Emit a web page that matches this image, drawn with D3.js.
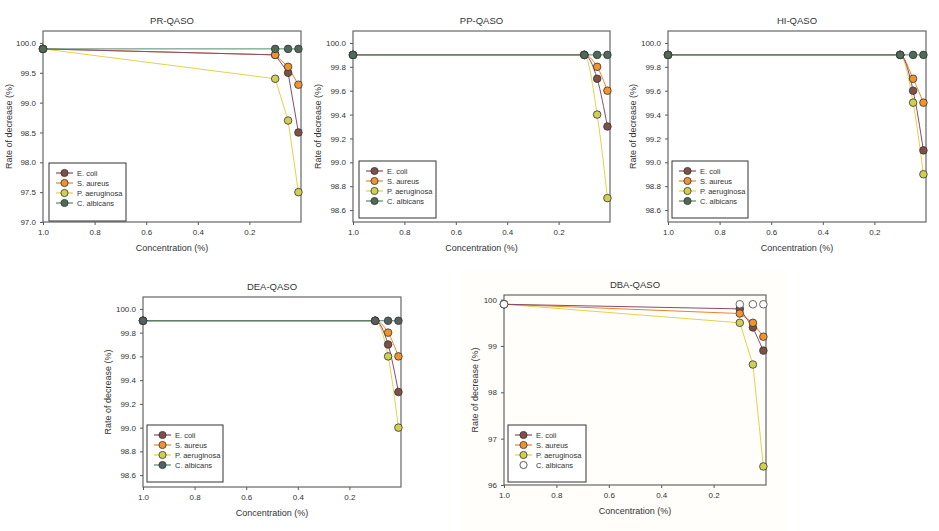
<!DOCTYPE html>
<html>
<head>
<meta charset="utf-8">
<script src="https://cdn.jsdelivr.net/npm/d3@7/dist/d3.min.js"></script>
<style>
  html, body { margin: 0; padding: 0; background: #ffffff; }
  svg { display: block; font-family: "Liberation Sans", Arial, sans-serif; }
</style>
</head>
<body>
<svg id="chart" width="939" height="531"></svg>
<script>
// ---------- data ----------
const concentrations = [1.0, 0.1, 0.05, 0.01];
const species = ["E. coli", "S. aureus", "P. aeruginosa", "C. albicans"];
const xTickValues = [1.0, 0.8, 0.6, 0.4, 0.2];

const prTitle = "PR-QASO";
const prEcoli = [99.9, 99.8, 99.5, 98.5];
const prSaureus = [99.9, 99.8, 99.6, 99.3];
const prPaeruginosa = [99.9, 99.4, 98.7, 97.5];
const prCalbicans = [99.9, 99.9, 99.9, 99.9];
const prYTicks = [97.0, 97.5, 98.0, 98.5, 99.0, 99.5, 100.0];

const ppTitle = "PP-QASO";
const ppEcoli = [99.9, 99.9, 99.7, 99.3];
const ppSaureus = [99.9, 99.9, 99.8, 99.6];
const ppPaeruginosa = [99.9, 99.9, 99.4, 98.7];
const ppCalbicans = [99.9, 99.9, 99.9, 99.9];

const hiTitle = "HI-QASO";
const hiEcoli = [99.9, 99.9, 99.6, 99.1];
const hiSaureus = [99.9, 99.9, 99.7, 99.5];
const hiPaeruginosa = [99.9, 99.9, 99.5, 98.9];
const hiCalbicans = [99.9, 99.9, 99.9, 99.9];

const deaTitle = "DEA-QASO";
const deaEcoli = [99.9, 99.9, 99.7, 99.3];
const deaSaureus = [99.9, 99.9, 99.8, 99.6];
const deaPaeruginosa = [99.9, 99.9, 99.6, 99.0];
const deaCalbicans = [99.9, 99.9, 99.9, 99.9];

const smallYTicks = [98.6, 98.8, 99.0, 99.2, 99.4, 99.6, 99.8, 100.0];

const dbaTitle = "DBA-QASO";
const dbaEcoli = [99.9, 99.8, 99.4, 98.9];
const dbaSaureus = [99.9, 99.7, 99.5, 99.2];
const dbaPaeruginosa = [99.9, 99.5, 98.6, 96.4];
const dbaCalbicans = [99.9, 99.9, 99.9, 99.9];
const dbaYTicks = [96, 97, 98, 99, 100];

// ---------- styles ----------
const lineColors = ["#8a4a6a", "#e8842a", "#e2d24a", "#4f8a6a"];
const markerFills = ["#7e5048", "#f0922e", "#cfcf55", "#4e6a58"];

const panels = [
  { title: prTitle, values: [prEcoli, prSaureus, prPaeruginosa, prCalbicans], yDomain: [97.0, 100.2], yTicks: prYTicks, fmt: ".1f",
    box: { l: 43, r: 301, t: 31, b: 222 }, legend: { x: 49, y: 163, w: 77, h: 58 }, curve: "linear", ylx: 9, bg: "#ffffff" },
  { title: ppTitle, values: [ppEcoli, ppSaureus, ppPaeruginosa, ppCalbicans], yDomain: [98.5, 100.1], yTicks: smallYTicks, fmt: ".1f",
    box: { l: 353, r: 610, t: 31, b: 222 }, legend: { x: 359, y: 161, w: 77, h: 57 }, curve: "smooth", ylx: 318, bg: "#ffffff" },
  { title: hiTitle, values: [hiEcoli, hiSaureus, hiPaeruginosa, hiCalbicans], yDomain: [98.5, 100.1], yTicks: smallYTicks, fmt: ".1f",
    box: { l: 668, r: 926, t: 31, b: 222 }, legend: { x: 672, y: 161, w: 76, h: 57 }, curve: "smooth", ylx: 633, bg: "#ffffff" },
  { title: deaTitle, values: [deaEcoli, deaSaureus, deaPaeruginosa, deaCalbicans], yDomain: [98.5, 100.1], yTicks: smallYTicks, fmt: ".1f",
    box: { l: 143, r: 401, t: 297, b: 487 }, legend: { x: 147, y: 425, w: 76, h: 57 }, curve: "smooth", ylx: 108, bg: "#ffffff", albGrey: true },
  { title: dbaTitle, values: [dbaEcoli, dbaSaureus, dbaPaeruginosa, dbaCalbicans], yDomain: [96, 100.1], yTicks: dbaYTicks, fmt: "d",
    box: { l: 504, r: 766, t: 295, b: 485 }, legend: { x: 508, y: 425, w: 78, h: 57 }, curve: "linear", ylx: 475, bg: "#fffefa", hollowAlb: true }
];

const svg = d3.select("#chart");

panels.forEach(p => {
  const g = svg.append("g");
  const x = d3.scaleLinear().domain([1.0, 0.0]).range([p.box.l, p.box.r]);
  const y = d3.scaleLinear().domain(p.yDomain).range([p.box.b, p.box.t]);

  if (p.bg !== "#ffffff") {
    g.append("rect").attr("x", p.box.l - 42).attr("y", p.box.t - 25)
      .attr("width", p.box.r - p.box.l + 62).attr("height", 531 - (p.box.t - 25))
      .attr("fill", p.bg);
  }

  // axes
  const xAxis = d3.axisBottom(x).tickValues(xTickValues).tickFormat(d3.format(".1f")).tickSize(3).tickPadding(4);
  const yAxis = d3.axisLeft(y).tickValues(p.yTicks).tickFormat(d3.format(p.fmt)).tickSize(3).tickPadding(4);
  const gx = g.append("g").attr("transform", `translate(0,${p.box.b})`).call(xAxis);
  const gy = g.append("g").attr("transform", `translate(${p.box.l},0)`).call(yAxis);
  [gx, gy].forEach(a => {
    a.select(".domain").remove();
    a.selectAll("line").attr("stroke", "#555");
    a.selectAll("text").attr("fill", "#333").style("font-size", "8px")
      .style("font-family", "'Liberation Sans', Arial, sans-serif");
  });

  // frame
  g.append("rect").attr("x", p.box.l).attr("y", p.box.t)
    .attr("width", p.box.r - p.box.l).attr("height", p.box.b - p.box.t)
    .attr("fill", "none").attr("stroke", "#666").attr("stroke-width", 1.2);

  // title & labels
  g.append("text").attr("x", (p.box.l + p.box.r) / 2).attr("y", p.box.t - 7)
    .attr("text-anchor", "middle").attr("fill", "#333").style("font-size", "9.5px").text(p.title);
  g.append("text").attr("x", (p.box.l + p.box.r) / 2).attr("y", p.box.b + 29)
    .attr("text-anchor", "middle").attr("fill", "#333").style("font-size", "9px").text("Concentration (%)");
  g.append("text").attr("transform", `translate(${p.ylx},${(p.box.t + p.box.b) / 2}) rotate(-90)`)
    .attr("text-anchor", "middle").attr("dy", "0.35em").attr("fill", "#333").style("font-size", "9px").text("Rate of decrease (%)");

  const curve = p.curve === "smooth" ? d3.curveMonotoneX : d3.curveLinear;
  const line = d3.line().x(d => x(d[0])).y(d => y(d[1])).curve(curve);

  // lines: C. albicans drawn last so its flat line sits on top
  const order = [2, 1, 0, 3];
  order.forEach(i => {
    if (i === 3 && p.hollowAlb) return;
    const pts = concentrations.map((c, k) => [c, p.values[i][k]]);
    g.append("path").datum(pts).attr("d", line)
      .attr("fill", "none").attr("stroke", lineColors[i]).attr("stroke-width", 1);
  });
  [0, 1, 2, 3].forEach(i => {
    const pts = concentrations.map((c, k) => [c, p.values[i][k]]);
    let fill = markerFills[i];
    if (i === 3 && p.hollowAlb) fill = "#ffffff";
    if (i === 3 && p.albGrey) fill = "#556060";
    g.selectAll(null).data(pts).enter().append("circle")
      .attr("cx", d => x(d[0])).attr("cy", d => y(d[1])).attr("r", 3.8)
      .attr("fill", fill).attr("stroke", i === 3 && p.hollowAlb ? "#444" : "#333").attr("stroke-width", 0.8);
  });

  // legend
  const L = p.legend;
  g.append("rect").attr("x", L.x).attr("y", L.y).attr("width", L.w).attr("height", L.h)
    .attr("fill", "#ffffff").attr("stroke", "#333").attr("stroke-width", 1);
  species.forEach((s, i) => {
    const yy = L.y + 10 + i * 10;
    if (!(i === 3 && p.hollowAlb)) {
      g.append("line").attr("x1", L.x + 7).attr("x2", L.x + 24).attr("y1", yy).attr("y2", yy)
        .attr("stroke", lineColors[i]).attr("stroke-width", 1.2);
    }
    let fill = markerFills[i];
    if (i === 3 && p.hollowAlb) fill = "#ffffff";
    if (i === 3 && p.albGrey) fill = "#556060";
    g.append("circle").attr("cx", L.x + 15.5).attr("cy", yy).attr("r", 3.6)
      .attr("fill", fill).attr("stroke", "#333").attr("stroke-width", 0.8);
    g.append("text").attr("x", L.x + 28).attr("y", yy).attr("dy", "0.35em")
      .attr("fill", "#333").style("font-size", "7.5px").text(s);
  });
});
</script>
</body>
</html>
